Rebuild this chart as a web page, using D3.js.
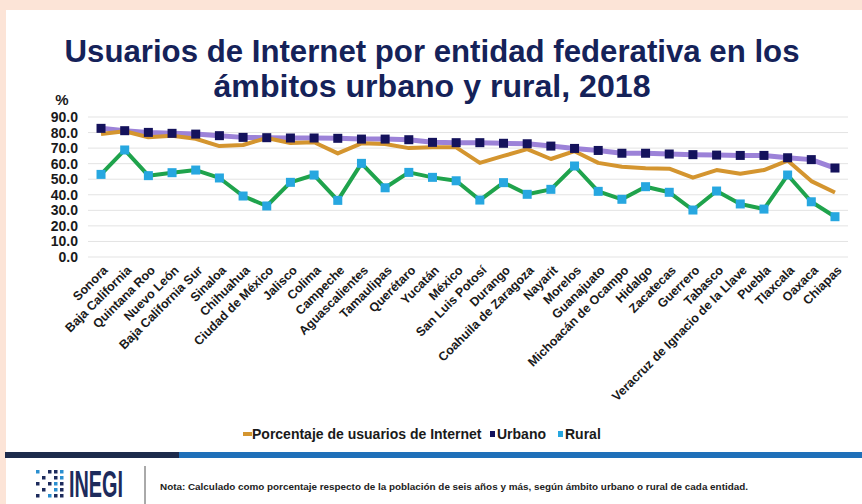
<!DOCTYPE html>
<html>
<head>
<meta charset="utf-8">
<script src="https://cdn.jsdelivr.net/npm/d3@7"></script>
<style>
  body { margin: 0; background: #fce4d7; }
  svg { display: block; font-family: "Liberation Sans", Arial, sans-serif; }
</style>
</head>
<body>
<div class="chart"></div>
<script>
// Entidades, in the order of the chart
const entidades = ["Sonora", "Baja California", "Quintana Roo", "Nuevo León", "Baja California Sur",
  "Sinaloa", "Chihuahua", "Ciudad de México", "Jalisco", "Colima", "Campeche", "Aguascalientes",
  "Tamaulipas", "Querétaro", "Yucatán", "México", "San Luis Potosí", "Durango", "Coahuila de Zaragoza",
  "Nayarit", "Morelos", "Guanajuato", "Michoacán de Ocampo", "Hidalgo", "Zacatecas", "Guerrero",
  "Tabasco", "Veracruz de Ignacio de la Llave", "Puebla", "Tlaxcala", "Oaxaca", "Chiapas"];

const total = [79.0, 80.8, 77.0, 78.0, 76.0, 71.3, 72.0, 76.5, 73.3, 73.8, 66.6, 73.1,
  72.6, 70.0, 70.5, 70.5, 60.5, 65.0, 69.3, 63.0, 68.0, 60.5, 58.0, 57.0,
  56.8, 51.0, 55.9, 53.5, 55.9, 62.0, 48.8, 41.5];

const urbano = [82.7, 81.2, 80.1, 79.5, 79.0, 78.0, 76.9, 76.7, 76.5, 76.5, 76.3, 75.8,
  75.8, 75.4, 73.7, 73.5, 73.5, 73.1, 72.8, 71.3, 69.8, 68.5, 66.7, 66.7,
  66.2, 65.8, 65.5, 65.3, 65.3, 63.8, 62.6, 57.2];

const rural = [53.1, 68.8, 52.3, 54.2, 55.9, 50.8, 39.2, 32.8, 48.0, 52.7, 36.4, 60.2,
  44.5, 54.4, 51.2, 49.0, 36.6, 47.8, 40.3, 43.5, 58.5, 42.2, 37.1, 45.2,
  41.6, 30.2, 42.4, 34.1, 30.8, 52.7, 35.5, 25.9];

const yTicks = [0, 10, 20, 30, 40, 50, 60, 70, 80, 90];

const titulo = ["Usuarios de Internet por entidad federativa en los", "ámbitos urbano y rural, 2018"];
const leyenda = [
  { name: "Porcentaje de usuarios de Internet", key: "total" },
  { name: "Urbano", key: "urbano" },
  { name: "Rural", key: "rural" }
];
const nota = "Nota: Calculado como porcentaje respecto de la población de seis años y más, según ámbito urbano o rural de cada entidad.";

const width = 862, height = 504;
const colors = { total: "#d4952f", urbano: "#9c82d8", urbanoMark: "#14125c", rural: "#1fa34c", ruralMark: "#27a7e0" };

const svg = d3.select(".chart").append("svg")
  .attr("width", width)
  .attr("height", height);

// white panel + footer band
svg.append("rect").attr("x", 6).attr("y", 10).attr("width", width - 6).attr("height", height - 10).attr("fill", "#fff");
svg.append("rect").attr("x", 5).attr("y", 452).attr("width", 174).attr("height", 6).attr("fill", "#1d2b4c");
svg.append("rect").attr("x", 179).attr("y", 452).attr("width", width - 179).attr("height", 6).attr("fill", "#1f70b9");

// title
const titleW = [735, 437];
svg.append("g").selectAll("text")
  .data(titulo)
  .join("text")
    .attr("x", 432)
    .attr("y", (d, i) => 62 + i * 35)
    .attr("text-anchor", "middle")
    .attr("font-size", 31)
    .attr("font-weight", "bold")
    .attr("fill", "#152259")
    .attr("textLength", (d, i) => titleW[i])
    .attr("lengthAdjust", "spacingAndGlyphs")
    .text(d => d);

const x = d3.scalePoint().domain(entidades).range([88, 848]).padding(0.55);
const y = d3.scaleLinear().domain([0, 90]).range([257, 117]);

// grid
svg.append("g").selectAll("line")
  .data(yTicks)
  .join("line")
    .attr("x1", 88).attr("x2", 848)
    .attr("y1", d => y(d)).attr("y2", d => y(d))
    .attr("stroke", "#e3e3e3");

// y axis
const yAxis = svg.append("g")
  .attr("transform", "translate(78,0)")
  .call(d3.axisLeft(y).tickValues(yTicks).tickFormat(d3.format(".1f")).tickSize(0).tickPadding(0));
yAxis.select(".domain").remove();
yAxis.selectAll("text")
  .attr("font-size", 14).attr("font-weight", "bold").attr("fill", "#1a1a1a")
  .attr("font-family", "Liberation Sans, Arial, sans-serif");

svg.append("text").attr("x", 62).attr("y", 105).attr("text-anchor", "middle")
  .attr("font-size", 15).attr("font-weight", "bold").attr("fill", "#1a1a1a").text("%");

// x labels
const xAxis = svg.append("g")
  .attr("transform", "translate(0,260)")
  .call(d3.axisBottom(x).tickSize(0).tickPadding(0));
xAxis.select(".domain").remove();
xAxis.selectAll("text")
  .attr("font-size", 12.5).attr("font-weight", "bold").attr("fill", "#1a1a1a")
  .attr("font-family", "Liberation Sans, Arial, sans-serif")
  .attr("text-anchor", "end")
  .attr("dy", 0)
  .attr("y", 0)
  .attr("transform", "translate(7,11) rotate(-45)");

// lines
const line = vals => d3.line().x((d, i) => x(entidades[i])).y(d => y(d))(vals);

svg.append("path").attr("d", line(urbano)).attr("fill", "none")
  .attr("stroke", colors.urbano).attr("stroke-width", 5).attr("stroke-linejoin", "round");
svg.append("path").attr("d", line(total)).attr("fill", "none")
  .attr("stroke", colors.total).attr("stroke-width", 4).attr("stroke-linejoin", "round");
svg.append("path").attr("d", line(rural)).attr("fill", "none")
  .attr("stroke", colors.rural).attr("stroke-width", 4).attr("stroke-linejoin", "round");

svg.append("g").selectAll("rect")
  .data(urbano)
  .join("rect")
    .attr("x", (d, i) => x(entidades[i]) - 4.5)
    .attr("y", d => y(d) - 4.5)
    .attr("width", 9).attr("height", 9)
    .attr("fill", colors.urbanoMark);

svg.append("g").selectAll("rect")
  .data(rural)
  .join("rect")
    .attr("x", (d, i) => x(entidades[i]) - 4.5)
    .attr("y", d => y(d) - 4.5)
    .attr("width", 9).attr("height", 9)
    .attr("fill", colors.ruralMark);

// legend
const legX = [243, 488, 556];
const leg = svg.append("g").selectAll("g")
  .data(leyenda)
  .join("g")
    .attr("transform", (d, i) => `translate(${legX[i]},434)`);
leg.each(function (d) {
  const g = d3.select(this);
  if (d.key === "total") {
    g.append("rect").attr("x", 0).attr("y", -2).attr("width", 9).attr("height", 4).attr("fill", colors.total);
  } else {
    g.append("rect").attr("x", 2).attr("y", -3).attr("width", 5).attr("height", 6)
      .attr("fill", d.key === "urbano" ? colors.urbanoMark : colors.ruralMark);
  }
});
leg.append("text")
  .attr("x", 9).attr("y", 5)
  .attr("font-size", 14).attr("font-weight", "bold").attr("fill", "#1a1a1a")
  .text(d => d.name);

// footer: logo + note
const logo = svg.append("g").attr("transform", "translate(36,468)");
const dots = [];
for (let r = 0; r < 5; r++) for (let c = 0; c < 5; c++) if ((r + c) % 2 === 0 || c > 2) dots.push([c, r]);
logo.selectAll("rect")
  .data(dots)
  .join("rect")
    .attr("x", d => d[0] * 6)
    .attr("y", d => d[1] * 6 + 2)
    .attr("width", 3.5).attr("height", 3.5)
    .attr("fill", (d, i) => i % 3 === 0 ? "#2a8fd0" : "#1d2b5c");
logo.append("text")
  .attr("x", 33).attr("y", 29)
  .attr("font-size", 36).attr("font-weight", "bold").attr("fill", "#1d2b5c")
  .attr("textLength", 54).attr("lengthAdjust", "spacingAndGlyphs")
  .text("INEGI");

svg.append("line").attr("x1", 145).attr("x2", 145).attr("y1", 466).attr("y2", 504)
  .attr("stroke", "#555").attr("stroke-width", 1);

svg.append("text")
  .attr("x", 160).attr("y", 490)
  .attr("font-size", 8.5).attr("font-weight", "bold").attr("fill", "#222")
  .attr("textLength", 588).attr("lengthAdjust", "spacingAndGlyphs")
  .text(nota);
</script>
</body>
</html>
